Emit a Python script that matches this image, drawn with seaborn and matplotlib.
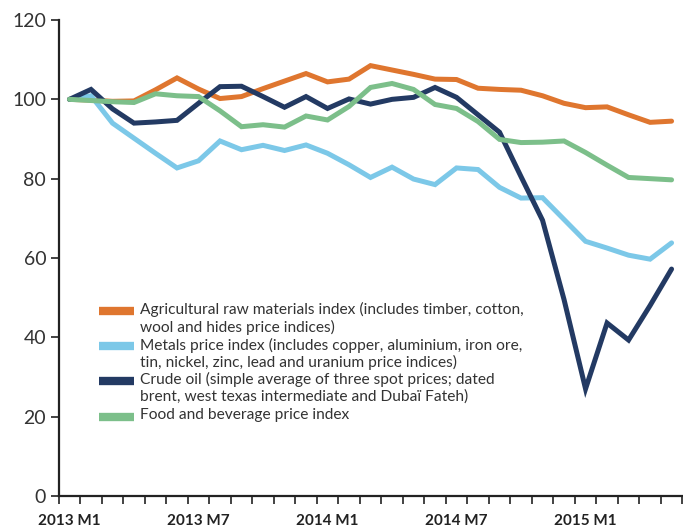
import pandas as pd
import matplotlib.pyplot as plt
from matplotlib.lines import Line2D
import seaborn as sns

# months 2013 M1 .. 2015 M5
months = [f"{y} M{m}" for y in (2013, 2014, 2015) for m in range(1, 13)][:29]

agri = [100, 99.8, 99.5, 99.6, 102.4, 105.4, 102.6, 100.2, 100.7, 102.7,
        104.6, 106.5, 104.4, 105.1, 108.5, 107.4, 106.3, 105.1, 105.0, 102.8,
        102.5, 102.3, 100.9, 99.0, 97.9, 98.1, 96.1, 94.2, 94.5]
metals = [100, 100.9, 94.0, 90.2, 86.4, 82.7, 84.5, 89.5, 87.3, 88.4,
          87.1, 88.5, 86.4, 83.5, 80.3, 82.9, 79.9, 78.5, 82.7, 82.3,
          77.8, 75.1, 75.2, 69.7, 64.2, 62.5, 60.7, 59.7, 63.8]
crude = [100, 102.5, 97.6, 94.0, 94.3, 94.7, 99.0, 103.2, 103.3, 100.7,
         98.0, 100.7, 97.7, 100.1, 98.8, 100.0, 100.5, 103.0, 100.5, 96.1,
         91.7, 80.5, 69.5, 49.5, 27.0, 43.6, 39.3, 48.0, 57.2]
food = [100, 99.7, 99.4, 99.2, 101.4, 100.9, 100.7, 97.1, 93.1, 93.6,
        93.0, 95.8, 94.8, 98.2, 103.0, 104.0, 102.5, 98.7, 97.7, 94.4,
        89.9, 89.1, 89.2, 89.5, 86.6, 83.4, 80.3, 80.0, 79.7]

series_names = [
    "Agricultural raw materials index (includes timber, cotton,\nwool and hides price indices)",
    "Metals price index (includes copper, aluminium, iron ore,\ntin, nickel, zinc, lead and uranium price indices)",
    "Crude oil (simple average of three spot prices; dated\nbrent, west texas intermediate and Dubaï Fateh)",
    "Food and beverage price index",
]
colors = ["#DF762F", "#7CC8E8", "#233A63", "#7CBF8A"]

rows = []
for name, vals in zip(series_names, [agri, metals, crude, food]):
    for i, v in enumerate(vals):
        rows.append({"idx": i, "value": v, "series": name})
df = pd.DataFrame(rows)

sns.set_theme(style="white")
plt.rcParams['font.family'] = ['Lato', 'DejaVu Sans']

fig = plt.figure(figsize=(6.83, 5.27), dpi=100)
ax = fig.add_axes([0.086, 0.059, 0.913, 0.903])

sns.lineplot(data=df, x="idx", y="value", hue="series", hue_order=series_names,
             palette=colors, linewidth=3.6, legend=False, ax=ax)
for ln in ax.lines:
    ln.set_solid_joinstyle("miter")

ax.set_xlim(-0.5, 28.5)
ax.set_ylim(0, 120)
ax.set_xlabel("")
ax.set_ylabel("")

ax.set_xticks(range(0, 29, 6))
ax.set_xticklabels([months[i] for i in range(0, 29, 6)], fontweight="bold",
                   fontsize=11, color="#222222")
ax.set_xticks([i - 0.5 for i in range(30)], minor=True)
ax.tick_params(axis="x", which="major", length=0, pad=13)
ax.tick_params(axis="x", which="minor", length=6, width=1.2, color="#222222",
               direction="out", bottom=True)
ax.set_yticks(range(0, 121, 20))
ax.tick_params(axis="y", length=6, width=1.2, color="#222222", direction="out",
               left=True, labelsize=14, labelcolor="#333333", pad=3)

sns.despine(ax=ax)
for s in ("left", "bottom"):
    ax.spines[s].set_linewidth(1.6)
    ax.spines[s].set_color("#222222")

# legend drawn by hand so the key sits next to the first line of each label
leg_y = [0.389, 0.315, 0.242, 0.166]
for name, c, y in zip(series_names, colors, leg_y):
    ax.add_line(Line2D([0.065, 0.12], [y, y], transform=ax.transAxes,
                       color=c, linewidth=6, solid_capstyle="butt"))
    ax.text(0.13, y + 0.018, name, transform=ax.transAxes, fontsize=11.2,
            color="#333333", va="top", linespacing=1.2)

fig.savefig("out.png", dpi=100)
